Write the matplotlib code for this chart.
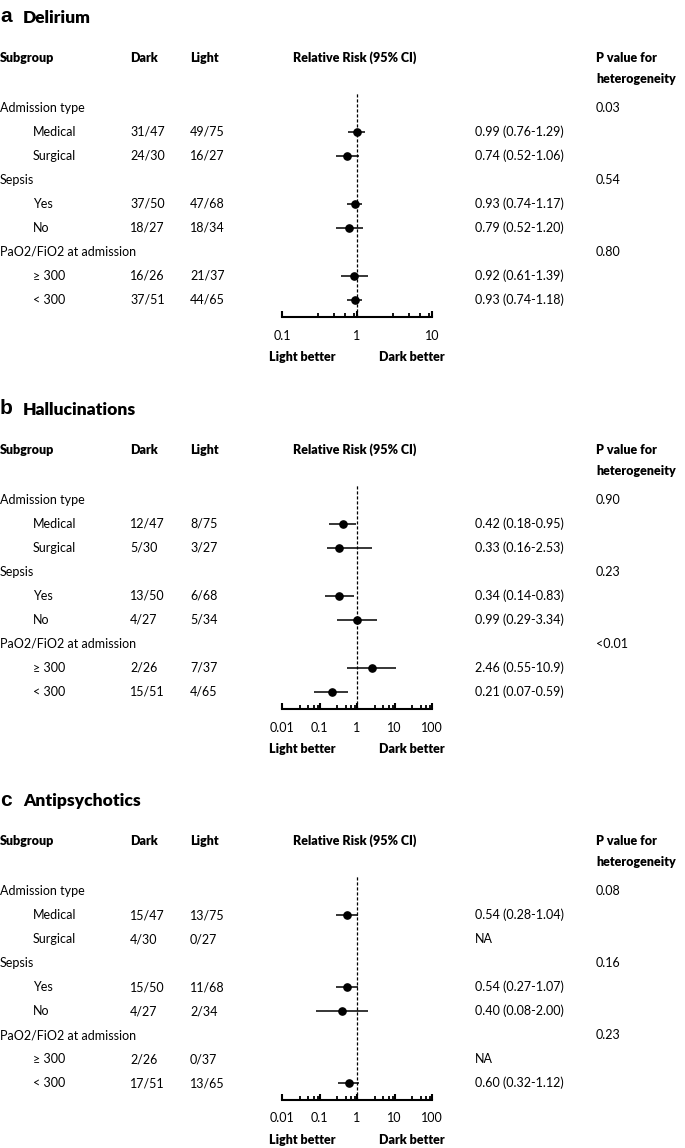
import numpy as np
import matplotlib.pyplot as plt

plt.rcParams['font.family'] = ['Lato', 'DejaVu Sans']

# ---- data ----
row_labels = ["Admission type", "Medical", "Surgical", "Sepsis", "Yes", "No",
              "PaO2/FiO2 at admission", "\u2265 300", "< 300"]
is_group = [True, False, False, True, False, False, True, False, False]

titles = ["Delirium", "Hallucinations", "Antipsychotics"]
letters = ["a", "b", "c"]

dark = [
    ["31/47", "24/30", "37/50", "18/27", "16/26", "37/51"],
    ["12/47", "5/30", "13/50", "4/27", "2/26", "15/51"],
    ["15/47", "4/30", "15/50", "4/27", "2/26", "17/51"],
]
light = [
    ["49/75", "16/27", "47/68", "18/34", "21/37", "44/65"],
    ["8/75", "3/27", "6/68", "5/34", "7/37", "4/65"],
    ["13/75", "0/27", "11/68", "2/34", "0/37", "13/65"],
]
rr = [
    [0.99, 0.74, 0.93, 0.79, 0.92, 0.93],
    [0.42, 0.33, 0.34, 0.99, 2.46, 0.21],
    [0.54, np.nan, 0.54, 0.40, np.nan, 0.60],
]
lo = [
    [0.76, 0.52, 0.74, 0.52, 0.61, 0.74],
    [0.18, 0.16, 0.14, 0.29, 0.55, 0.07],
    [0.28, np.nan, 0.27, 0.08, np.nan, 0.32],
]
hi = [
    [1.29, 1.06, 1.17, 1.20, 1.39, 1.18],
    [0.95, 2.53, 0.83, 3.34, 10.9, 0.59],
    [1.04, np.nan, 1.07, 2.00, np.nan, 1.12],
]
est_text = [
    ["0.99 (0.76-1.29)", "0.74 (0.52-1.06)", "0.93 (0.74-1.17)",
     "0.79 (0.52-1.20)", "0.92 (0.61-1.39)", "0.93 (0.74-1.18)"],
    ["0.42 (0.18-0.95)", "0.33 (0.16-2.53)", "0.34 (0.14-0.83)",
     "0.99 (0.29-3.34)", "2.46 (0.55-10.9)", "0.21 (0.07-0.59)"],
    ["0.54 (0.28-1.04)", "NA", "0.54 (0.27-1.07)",
     "0.40 (0.08-2.00)", "NA", "0.60 (0.32-1.12)"],
]
p_het = [
    ["0.03", "0.54", "0.80"],
    ["0.90", "0.23", "<0.01"],
    ["0.08", "0.16", "0.23"],
]
xlims = [(0.1, 10), (0.01, 100), (0.01, 100)]
xticks = [[0.1, 1, 10], [0.01, 0.1, 1, 10, 100], [0.01, 0.1, 1, 10, 100]]

# ---- layout (pixels) ----
W, H = 685, 1148
fig = plt.figure(figsize=(W / 100, H / 100), dpi=100)
tab = fig.add_axes([0, 0, 1, 1])
tab.set_xlim(0, W)
tab.set_ylim(H, 0)
tab.axis("off")

fs = 9
offsets = [0, 392, 783]
row_y0, row_dy = 108, 24.0
ax_top, ax_bot = 92, 317
x_fx0, x_fx1 = 282, 432

for k in range(3):
    off = offsets[k]
    tab.text(0, 17 + off, letters[k], fontsize=15, fontweight="bold",
             family=["Liberation Sans", "DejaVu Sans"], va="center", ha="left")
    tab.text(23, 18 + off, titles[k], fontsize=12.5, fontweight="heavy",
             va="center", ha="left")

    hy = 58 + off
    tab.text(0, hy, "Subgroup", fontsize=fs, fontweight="heavy", va="center")
    tab.text(130, hy, "Dark", fontsize=fs, fontweight="heavy", va="center")
    tab.text(190, hy, "Light", fontsize=fs, fontweight="heavy", va="center")
    tab.text(355, hy, "Relative Risk (95% CI)", fontsize=fs, fontweight="heavy",
             va="center", ha="center")
    tab.text(596, hy, "P value for", fontsize=fs, fontweight="heavy", va="center")
    tab.text(596, hy + 21, "heterogeneity", fontsize=fs, fontweight="heavy", va="center")

    j = 0
    g = 0
    for i, lab in enumerate(row_labels):
        y = row_y0 + row_dy * i + off
        if is_group[i]:
            tab.text(0, y, lab, fontsize=fs, va="center")
            tab.text(596, y, p_het[k][g], fontsize=fs, va="center")
            g += 1
        else:
            tab.text(33, y, lab, fontsize=fs, va="center")
            tab.text(130, y, dark[k][j], fontsize=fs, va="center")
            tab.text(190, y, light[k][j], fontsize=fs, va="center")
            tab.text(475, y, est_text[k][j], fontsize=fs, va="center")
            j += 1

    tab.text(302, 357 + off, "Light better", fontsize=fs, fontweight="heavy",
             va="center", ha="center")
    tab.text(412, 357 + off, "Dark better", fontsize=fs, fontweight="heavy",
             va="center", ha="center")

    # forest axis
    top_px, bot_px = ax_top + off, ax_bot + off
    ax = fig.add_axes([x_fx0 / W, 1 - bot_px / H, (x_fx1 - x_fx0) / W,
                       (bot_px - top_px) / H])
    ax.set_xscale("log")
    ax.set_xlim(*xlims[k])
    ax.set_ylim((bot_px - row_y0 - off) / row_dy, (top_px - row_y0 - off) / row_dy)
    ax.patch.set_visible(False)
    for s in ["top", "right", "left"]:
        ax.spines[s].set_visible(False)
    ax.spines["bottom"].set_linewidth(1.5)
    ax.set_yticks([])
    ax.set_xticks(xticks[k])
    ax.set_xticklabels([f"{t:g}" for t in xticks[k]], fontsize=fs)
    lo_d, hi_d = xlims[k]
    minors = []
    d = lo_d
    while d < hi_d:
        minors += [d * m for m in (3, 5, 7, 9)]
        d *= 10
    ax.set_xticks(minors, minor=True)
    ax.xaxis.set_minor_formatter(plt.NullFormatter())
    ax.tick_params(axis="x", which="major", direction="in", length=4.5, width=1.5, pad=9)
    ax.tick_params(axis="x", which="minor", direction="in", length=3, width=1.3)
    ax.axvline(1, color="black", linestyle=(0, (2.5, 1.5)), linewidth=0.9)

    item_rows = [i for i in range(len(row_labels)) if not is_group[i]]
    r = np.array(rr[k])
    l = np.array(lo[k])
    h = np.array(hi[k])
    ok = ~np.isnan(r)
    ys = np.array(item_rows)[ok]
    ax.hlines(ys, l[ok], h[ok], color="black", linewidth=1.1)
    ax.plot(r[ok], ys, "o", color="black", markersize=5.2)

fig.savefig("out.png", dpi=100)
